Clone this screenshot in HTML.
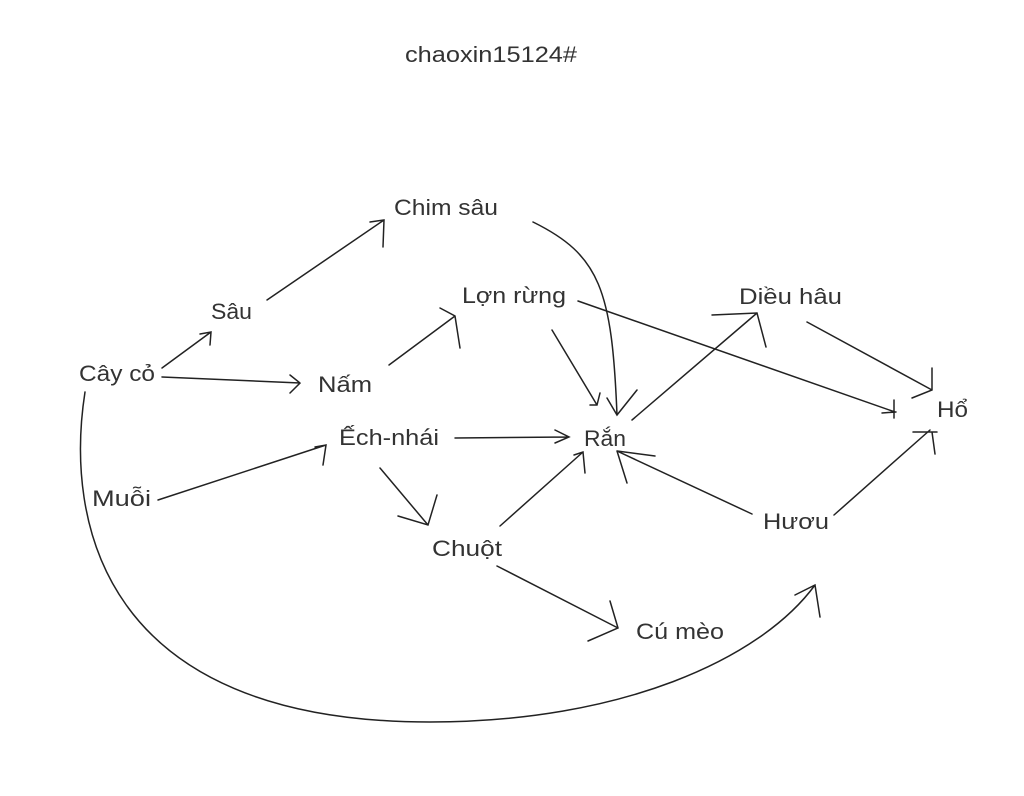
<!DOCTYPE html>
<html><head><meta charset="utf-8"><style>
html,body{margin:0;padding:0;background:#fff;}
svg{display:block}
text{font-family:"Liberation Sans",sans-serif;font-size:22px;fill:#333;}
</style></head><body>
<svg width="1024" height="796" viewBox="0 0 1024 796" xmlns="http://www.w3.org/2000/svg">
<rect width="1024" height="796" fill="#fff"/>
<text x="405" y="62" textLength="172" lengthAdjust="spacingAndGlyphs">chaoxin15124#</text>
<text x="394" y="215" textLength="104" lengthAdjust="spacingAndGlyphs">Chim sâu</text>
<text x="211" y="319" textLength="41" lengthAdjust="spacingAndGlyphs">Sâu</text>
<text x="462" y="303" textLength="104" lengthAdjust="spacingAndGlyphs">Lợn rừng</text>
<text x="739" y="304" textLength="103" lengthAdjust="spacingAndGlyphs">Diều hâu</text>
<text x="79" y="381" textLength="76" lengthAdjust="spacingAndGlyphs">Cây cỏ</text>
<text x="318" y="392" textLength="54" lengthAdjust="spacingAndGlyphs">Nấm</text>
<text x="937" y="417" textLength="31" lengthAdjust="spacingAndGlyphs">Hổ</text>
<text x="339" y="445" textLength="100" lengthAdjust="spacingAndGlyphs">Ếch-nhái</text>
<text x="584" y="446" textLength="42" lengthAdjust="spacingAndGlyphs">Rắn</text>
<text x="92" y="506" textLength="59" lengthAdjust="spacingAndGlyphs">Muỗi</text>
<text x="763" y="529" textLength="66" lengthAdjust="spacingAndGlyphs">Hươu</text>
<text x="432" y="556" textLength="70" lengthAdjust="spacingAndGlyphs">Chuột</text>
<text x="636" y="639" textLength="88" lengthAdjust="spacingAndGlyphs">Cú mèo</text>
<g stroke="#222" stroke-width="1.5" fill="none" stroke-linecap="round">
<path d="M162,368 L211,332 M200,334 L211,332 L210,345"/>
<path d="M162,377 L300,383 M290,375 L300,383 L290,393"/>
<path d="M267,300 L384,220 M370,222 L384,220 L383,247"/>
<path d="M389,365 L455,316 M440,308 L455,316 L460,348"/>
<path d="M158,500 L326,445 M315,447 L326,445 L323,465"/>
<path d="M455,438 L569,437 M555,430 L569,437 L555,443"/>
<path d="M380,468 L428,525 M398,516 L428,525 L437,495"/>
<path d="M500,526 L583,452 M574,455 L583,452 L585,473"/>
<path d="M497,566 L618,628 M610,601 L618,628 L588,641"/>
<path d="M533,222 C600,255 612,290 617,415 M607,398 L617,415 L637,390"/>
<path d="M552,330 L597,405 M590,405 L597,405 L600,393"/>
<path d="M632,420 L757,313 M712,315 L757,313 L766,347"/>
<path d="M578,301 L895,412 M882,413 L896,412 M894,400 L894,418"/>
<path d="M807,322 L932,390 M912,398 L932,390 L932,368"/>
<path d="M752,514 L617,451 L655,456 M617,451 L627,483"/>
<path d="M834,515 L930,430 M913,432 L937,432 M932,432 L935,454"/>
<path d="M85,392 C65,520 100,722 430,722 C620,722 760,660 815,585 M795,595 L815,585 L820,617"/>
</g>
</svg>
</body></html>
